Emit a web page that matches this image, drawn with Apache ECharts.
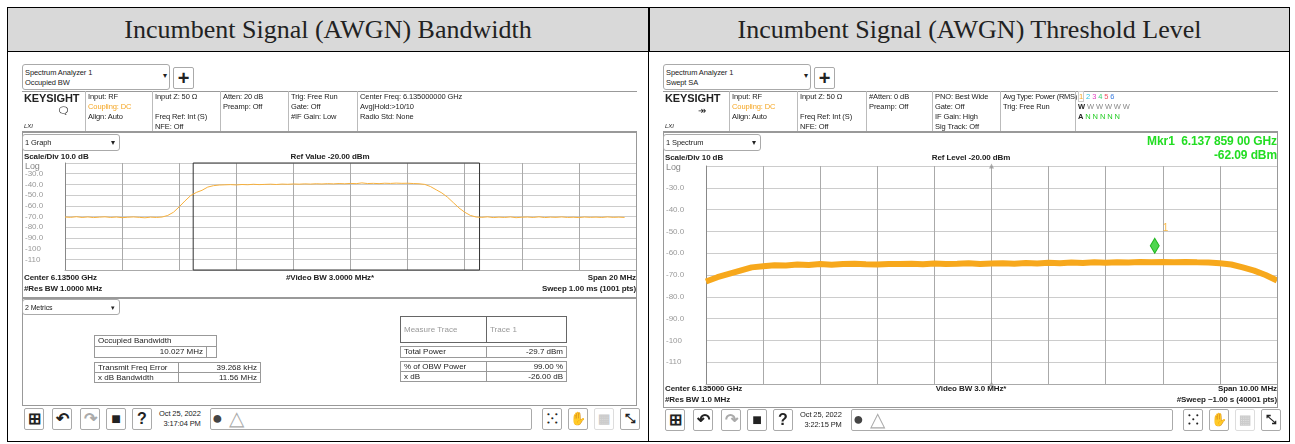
<!DOCTYPE html>
<html><head><meta charset="utf-8">
<script src="https://cdn.jsdelivr.net/npm/echarts@6/dist/echarts.min.js"></script>
<style>
body{margin:0;width:1295px;height:444px;background:#fff;position:relative;overflow:hidden;font-family:"Liberation Sans",Arial,sans-serif;color:#222}
.a{position:absolute;white-space:nowrap}
.t{font-size:7.5px;line-height:10px;letter-spacing:-0.1px}
.b{font-weight:bold;font-size:8px}
.box{position:absolute;border:1px solid #999;box-sizing:border-box}
.title{position:absolute;top:8px;height:44px;background:#d9d9d9;font-family:"Liberation Serif","Times New Roman",serif;font-size:26px;line-height:44px;text-align:center;box-sizing:border-box}
.ic{position:absolute;border:1px solid #aaa;border-radius:2px;box-sizing:border-box;width:20px;height:22px;font-size:16px;line-height:20px;text-align:center;font-weight:bold;background:#fff}
.cell{position:absolute;border:1px solid #999;box-sizing:border-box;font-size:8px;line-height:9px;padding:0 3px}
</style></head><body>
<div class="box" style="left:7px;top:7px;width:1283px;height:435px;border-color:#000"></div>
<div class="title" style="left:8px;width:640px;border-bottom:1px solid #000">Incumbent Signal (AWGN) Bandwidth</div>
<div class="title" style="left:649px;width:640px;border-left:1px solid #000;border-bottom:1px solid #000">Incumbent Signal (AWGN) Threshold Level</div>
<div class="a" style="left:648px;top:8px;width:1px;height:434px;background:#000"></div>
<div class="a" id="c1" style="left:22px;top:158px;width:618px;height:118px"></div>
<div class="a" id="c2" style="left:663px;top:160px;width:618px;height:228px"></div>
<script>
// ---- data ----
var obwFreqStart = 6125, obwFreqStep = 0.2;   // MHz, 20 MHz span
var obwTrace = [
 -70.5,-70.8,-70.2,-70.9,-70.4,-71.0,-70.6,-70.3,-70.9,-70.5,-71.1,-70.7,-70.4,-70.8,-71.2,-70.6,-70.9,-70.5,
 -69.0,-66.0,-61.0,-55.5,-50.5,-47.5,-45.5,-42.5,-41.2,-40.6,-40.4,-40.2,-40.5,-40.1,-40.3,-39.9,-40.2,-40.0,
 -39.8,-40.1,-39.7,-39.9,-39.6,-39.8,-39.5,-39.7,-39.4,-39.6,-39.3,-39.5,-39.2,-39.4,-39.1,-39.3,-38.6,-39.2,
 -39.0,-39.3,-38.9,-39.1,-38.8,-39.0,-38.9,-39.2,-39.4,-40.0,-42.0,-45.0,-48.0,-52.0,-57.0,-62.0,-66.0,-69.0,
 -70.5,-70.8,-70.3,-71.0,-70.6,-70.9,-70.4,-71.1,-70.7,-70.5,-70.9,-70.3,-71.0,-70.6,-70.8,-70.4,-70.9,-70.7,
 -71.0,-70.5,-70.8,-70.6,-70.9,-70.4,-70.8,-70.6,-70.9];
var obwEdges = [6129.49, 6139.52];
var sweptFreqStart = 6130, sweptFreqStep = 0.2; // MHz, 10 MHz span
var sweptTrace = [
 -73,-71,-69.5,-68,-66.5,-66,-65.5,-65.6,-65.2,-65.4,-65,-65.3,-65,-64.8,-65.1,-65.2,-64.9,-65,-64.8,-65.1,
 -64.7,-64.9,-64.8,-64.6,-64.9,-64.7,-64.6,-64.8,-64.5,-64.7,-64.4,-64.6,-64.3,-64.5,-64.2,-64.4,-64.1,-64.3,
 -64.0,-64.2,-64.0,-64.1,-64.0,-64.2,-64.3,-64.6,-65.2,-66.5,-68,-70,-72.5];
var marker = [6137.859, -62.09];
var yTicks = [-30,-40,-50,-60,-70,-80,-90,-100,-110];

// ---- instrument frame (html text) ----
function el(html, css, cls){var d=document.createElement('div');d.className=cls||'a t';d.style.cssText=css;d.innerHTML=html;document.body.appendChild(d);return d;}
function frame(ox, p){
  el('Spectrum Analyzer 1<br>'+p.mode+'<span style="position:absolute;left:140px;top:6px">▾</span>','left:'+ox+'px;top:64px;width:148px;height:26px;padding:3px 2px;border:1px solid #aaa;border-radius:3px;box-sizing:border-box');
  el('+','left:'+(ox+151)+'px;top:67px;font-size:20px;line-height:20px;width:21px;height:22px;text-align:center;border:1px solid #aaa;box-sizing:border-box;font-weight:bold','ic');
  el('','left:'+ox+'px;top:91px;width:615px;height:41px;border-top:1px solid #999;border-bottom:1px solid #999;box-sizing:border-box');
  el('KEYSIGHT','left:'+(ox+2)+'px;top:92px;font-size:11px;font-weight:bold;line-height:12px');
  el(p.icon,'left:'+(ox+35)+'px;top:106px;font-size:10px');
  el('<i>LXI</i>','left:'+(ox+2)+'px;top:121px;font-size:6px');
  p.cols.forEach(function(c){
    el('','left:'+(ox+c[0]-3)+'px;top:91px;width:1px;height:40px;background:#bbb');
    el(c[1],'left:'+(ox+c[0])+'px;top:92px');
  });
  el('','left:'+ox+'px;top:132px;width:615px;height:'+p.graphH+'px;border:1px solid #999;box-sizing:border-box');
  el(p.dd+'<span style="position:absolute;left:88px;top:3px">▾</span>','left:'+ox+'px;top:134px;width:98px;height:17px;padding:3px 2px;border:1px solid #aaa;border-radius:3px;box-sizing:border-box');
  el('Scale/Div '+p.scale,'left:'+(ox+2)+'px;top:'+p.sy+'px','a t b');
  el(p.ref,'left:'+(ox+308)+'px;top:'+p.sy+'px;transform:translateX(-50%)','a t b');
  el('Log','left:'+(ox+3)+'px;top:'+(p.sy+9)+'px;color:#888;font-size:9px');
  var by=p.by;
  el(p.center,'left:'+(ox+2)+'px;top:'+by+'px','a t b');
  el(p.res,'left:'+(ox+2)+'px;top:'+(by+11)+'px','a t b');
  el(p.vbw,'left:'+(ox+308)+'px;top:'+by+'px;transform:translateX(-50%)','a t b');
  el(p.span,'right:'+(1295-ox-614)+'px;top:'+by+'px','a t b');
  el(p.sweep,'right:'+(1295-ox-614)+'px;top:'+(by+11)+'px','a t b');
  var ty=p.ty;
  var ics=[['⊞',2],['↶',30],['↷',58],['■',84],['?',110]];
  ics.forEach(function(c,i){el(c[0],'left:'+(ox+c[1])+'px;top:'+ty+'px;'+(i==2?'color:#aaa':''),'ic');});
  el(p.date,'left:'+(ox+137)+'px;top:'+(ty+1)+'px;text-align:right');
  el('','left:'+(ox+188)+'px;top:'+ty+'px;width:322px;height:22px;border:1px solid #aaa;border-radius:2px;box-sizing:border-box');
  el('●','left:'+(ox+190)+'px;top:'+(ty-1)+'px;font-size:18px;line-height:22px;color:#444');
  el('△','left:'+(ox+207)+'px;top:'+(ty-1)+'px;font-size:20px;line-height:22px;color:#aaa');
  [['⁙',520],['✋',546],['▦',572],['⤡',598]].forEach(function(c,i){el(c[0],'left:'+(ox+c[1])+'px;top:'+ty+'px;font-size:13px;'+(i==2?'color:#ccc;border-color:#ddd':''),'ic');});
}
frame(22,{mode:'Occupied BW',icon:'🗨',dd:'1 Graph',scale:'10.0 dB',ref:'Ref Value -20.00 dBm',sy:152,by:273,graphH:166,ty:408,
  center:'Center 6.13500 GHz',res:'#Res BW 1.0000 MHz',vbw:'#Video BW 3.0000 MHz*',span:'Span 20 MHz',sweep:'Sweep 1.00 ms (1001 pts)',
  date:'Oct 25, 2022<br>3:17:04 PM',
  cols:[[66,'Input: RF<br><span style="color:#f5a623">Coupling: DC</span><br>Align: Auto'],[133,'Input Z: 50 Ω<br><br>Freq Ref: Int (S)<br>NFE: Off'],
   [201,'Atten: 20 dB<br>Preamp: Off'],[269,'Trig: Free Run<br>Gate: Off<br>#IF Gain: Low'],[338,'Center Freq: 6.135000000 GHz<br>Avg|Hold:&gt;10/10<br>Radio Std: None']]});
frame(663,{mode:'Swept SA',icon:'↠',dd:'1 Spectrum',scale:'10 dB',ref:'Ref Level -20.00 dBm',sy:153,by:384,graphH:276,ty:409,
  center:'Center 6.135000 GHz',res:'#Res BW 1.0 MHz',vbw:'Video BW 3.0 MHz*',span:'Span 10.00 MHz',sweep:'#Sweep ~1.00 s (40001 pts)',
  date:'Oct 25, 2022<br>3:22:15 PM',
  cols:[[69,'Input: RF<br><span style="color:#f5a623">Coupling: DC</span><br>Align: Auto'],[137,'Input Z: 50 Ω<br><br>Freq Ref: Int (S)<br>NFE: Off'],
   [206,'#Atten: 0 dB<br>Preamp: Off'],[272,'PNO: Best Wide<br>Gate: Off<br>IF Gain: High<br>Sig Track: Off'],[340,'<span style="letter-spacing:-0.3px">Avg Type: Power (RMS)</span><br>Trig: Free Run'],
   [415,'<span style="color:#f5a623;border:1px solid #ccc">1</span> <span style="color:#2ec4e6">2</span> <span style="color:#e040c0">3</span> <span style="color:#3cd070">4</span> <span style="color:#f05060">5</span> <span style="color:#3b7de0">6</span><br><b>W</b> <span style="color:#888">W W W W W</span><br><b>A</b> <span style="color:#2c2">N N N N N</span>']]});
el('Mkr1&nbsp; 6.137 859 00 GHz','right:18px;top:134px;font-size:12px;font-weight:bold;color:#22dd22;line-height:14px');
el('-62.09 dBm','right:18px;top:148px;font-size:12px;font-weight:bold;color:#22dd22;line-height:14px');
// metrics panel (left)
el('','left:22px;top:298px;width:615px;height:108px;border:1px solid #999;box-sizing:border-box');
el('2 Metrics<span style="position:absolute;left:88px;top:3px">▾</span>','left:22px;top:299px;width:98px;height:16px;padding:3px 2px;border:1px solid #aaa;border-radius:3px;box-sizing:border-box;font-size:7px');
function cell(txt,x,y,w,h,css){el(txt,'left:'+x+'px;top:'+y+'px;width:'+w+'px;height:'+h+'px;'+(css||''),'cell');}
cell('Occupied Bandwidth',94,335,123,12);
cell('10.027 MHz',94,346,113,12,'text-align:right');cell('',206,346,11,12);
cell('Transmit Freq Error',94,362,85,11);cell('39.268 kHz',178,362,83,11,'text-align:right');
cell('x dB Bandwidth',94,372,85,11);cell('11.56 MHz',178,372,83,11,'text-align:right');
cell('Measure Trace',400,316,87,27,'color:#999;line-height:25px;border-color:#666');cell('Trace 1',486,316,81,27,'color:#999;line-height:25px;border-color:#666');
cell('Total Power',400,346,87,12);cell('-29.7 dBm',486,346,81,12,'text-align:right');
cell('% of OBW Power',400,361,87,11);cell('99.00 %',486,361,81,11,'text-align:right');
cell('x dB',400,371,87,11);cell('-26.00 dB',486,371,81,11,'text-align:right');

// ---- charts ----
function pairs(start, step, ys){return ys.map(function(v,i){return [+(start+i*step).toFixed(3), v];});}
function yAx(){return {type:'value',min:-120,max:-20,interval:10,
  axisLabel:{color:'#999',fontSize:8,align:'left',margin:40,formatter:function(v){return yTicks.indexOf(v)<0?'':(v<=-100?String(v):v.toFixed(1));}},
  axisLine:{show:true,lineStyle:{color:'#888'}},axisTick:{show:false},splitLine:{lineStyle:{color:'#ccc'}}};}
function xAx(min,max,iv){return {type:'value',min:min,max:max,interval:iv,axisLabel:{show:false},axisTick:{show:false},
  axisLine:{show:true,lineStyle:{color:'#aaa'}},splitLine:{show:true,lineStyle:{color:'#aaa'}}};}
var c1 = echarts.init(document.getElementById('c1'));
c1.setOption({animation:false,grid:{left:43,top:5,width:571,height:107},xAxis:xAx(6125,6145,2),yAxis:yAx(),
  series:[{type:'line',data:pairs(obwFreqStart,obwFreqStep,obwTrace),showSymbol:false,lineStyle:{color:'#f7b03c',width:1},
    markArea:{silent:true,itemStyle:{color:'rgba(0,0,0,0)',borderColor:'#333',borderWidth:1},data:[[{xAxis:obwEdges[0],yAxis:-20},{xAxis:obwEdges[1],yAxis:-120}]]}}]});
var c2 = echarts.init(document.getElementById('c2'));
c2.setOption({animation:false,grid:{left:27,top:6,width:587,height:218},xAxis:xAx(6130,6140,1),yAxis:yAx(),
  series:[{type:'line',data:pairs(sweptFreqStart,sweptFreqStep,sweptTrace),showSymbol:false,lineStyle:{color:'#f7a81c',width:6}},
    {type:'scatter',data:[marker],symbol:'diamond',symbolSize:[9,15],symbolOffset:[0,-12],itemStyle:{color:'#22cc22',borderColor:'#0a0',borderWidth:1},
     label:{show:true,formatter:'1',color:'#f7a81c',fontSize:10,position:'right',offset:[-2,-18]}},
    {type:'scatter',data:[[6135,-20],[6135,-120]],symbol:'triangle',symbolSize:5,itemStyle:{color:'#999'}}]});
</script>
</body></html>
